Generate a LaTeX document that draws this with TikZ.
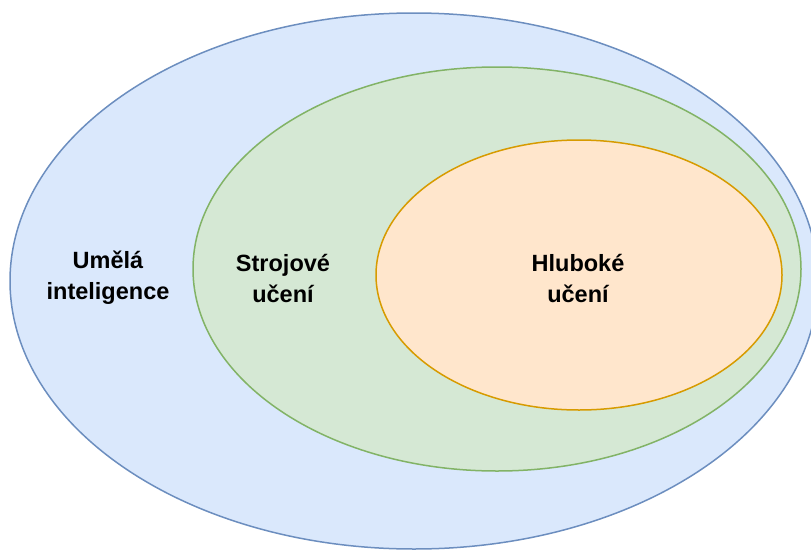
\documentclass[tikz,border=0pt]{standalone}
\usepackage{fontspec}
\setmainfont{Liberation Sans}
\usetikzlibrary{positioning}

\definecolor{aiFill}{HTML}{DAE8FC}
\definecolor{aiLine}{HTML}{6C8EBF}
\definecolor{mlFill}{HTML}{D5E8D4}
\definecolor{mlLine}{HTML}{82B366}
\definecolor{dlFill}{HTML}{FFE6CC}
\definecolor{dlLine}{HTML}{D79B00}

\begin{document}
\begin{tikzpicture}[
        x=1pt, y=-1pt,
        region/.style={line width=1.5pt},
        setname/.style={font=\fontsize{23.5}{31}\selectfont\bfseries, align=center}
    ]
    \useasboundingbox (0,0) rectangle (811,549);
    \clip (0,0) rectangle (811,549);

    % Sets
    \draw[region, draw=aiLine, fill=aiFill] (414,281) ellipse [x radius=404, y radius=268];
    \draw[region, draw=mlLine, fill=mlFill] (497,269) ellipse [x radius=304, y radius=202];
    \draw[region, draw=dlLine, fill=dlFill] (579,275) ellipse [x radius=203, y radius=135];

    % Names
    \node[setname] (ai) at (108,278) {Umělá\\inteligence};
    \node[setname] (ml) at (283,278) {Strojové\\učení};
    \node[setname] (dl) at (578,278) {Hluboké\\učení};

\end{tikzpicture}
\end{document}
